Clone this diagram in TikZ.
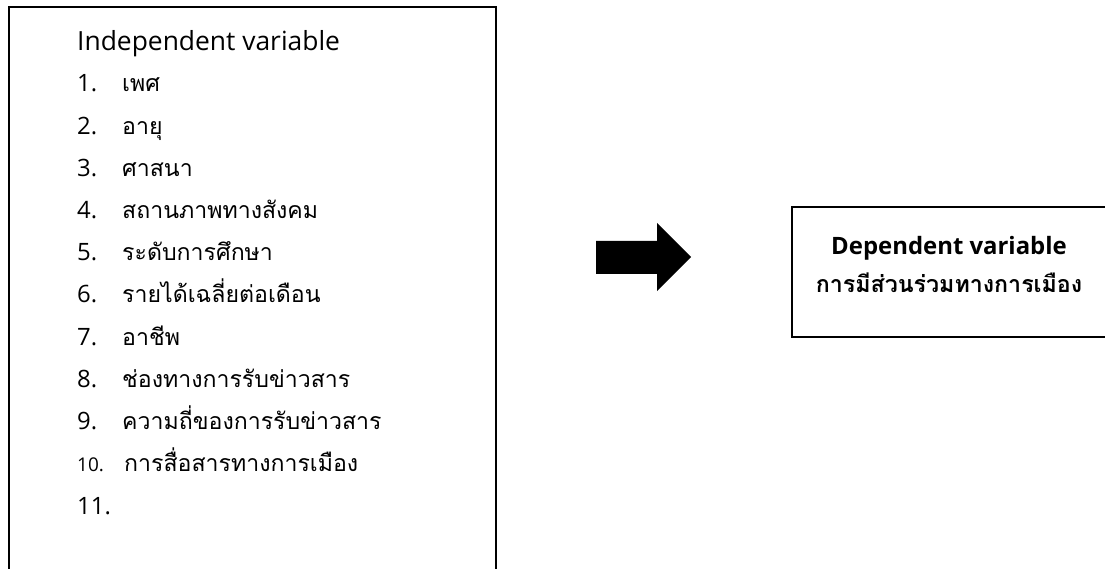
\documentclass[tikz,border=0pt]{standalone}
\usepackage{fontspec}
\setmainfont{Open Sans}
\newfontfamily\thai[Script=Thai]{Loma}
\begin{document}
\begin{tikzpicture}[x=1bp,y=-1bp,
  frame/.style={draw=black,line width=1.6bp,inner sep=0pt,anchor=north west},
  num/.style={anchor=base west,inner sep=0pt,font=\fontsize{24}{24}\selectfont},
  item/.style={anchor=base west,inner sep=0pt,font=\thai\fontsize{23.2}{23.2}\selectfont},
]
\useasboundingbox (0,0) rectangle (1105,569);
\node[frame,minimum width=487bp,minimum height=620bp] (leftbox) at (8,6) {};
\node[frame,minimum width=320bp,minimum height=130bp] (rightbox) at (791,206) {};
\node[anchor=base west,inner sep=0pt,font=\fontsize{26.5}{26.5}\selectfont] (hdr) at (77,51) {Independent variable};
\foreach \i/\t in {1/เพศ,2/อายุ,3/ศาสนา,4/สถานภาพทางสังคม,5/ระดับการศึกษา,6/รายได้เฉลี่ยต่อเดือน,7/อาชีพ,8/ช่องทางการรับข่าวสาร,9/ความถี่ของการรับข่าวสาร}{
  \node[num] (n\i) at (77,{92+42.2*(\i-1)}) {\i.};
  \node[item] (t\i) at (122,{92+42.2*(\i-1)}) {\t};
}
\node[num,font=\fontsize{19}{19}\selectfont] (n10) at (77,{92+42.2*9}) {10.};
\node[item] (t10) at (124,{92+42.2*9}) {การสื่อสารทางการเมือง};
\node[num] (n11) at (77,{92+42.2*10}) {11.};
\node[anchor=base,inner sep=0pt,font=\bfseries\fontsize{24}{24}\selectfont] (dep) at (949,255) {Dependent variable};
\node[anchor=base,inner sep=0pt,font=\thai\bfseries\fontsize{23.3}{23.3}\selectfont] (depth) at (949,293) {การมีส่วนร่วมทางการเมือง};
\fill[black] (596,241) -- (657,241) -- (657,223) -- (691,257) -- (657,291) -- (657,274) -- (596,274) -- cycle;
\end{tikzpicture}
\end{document}
